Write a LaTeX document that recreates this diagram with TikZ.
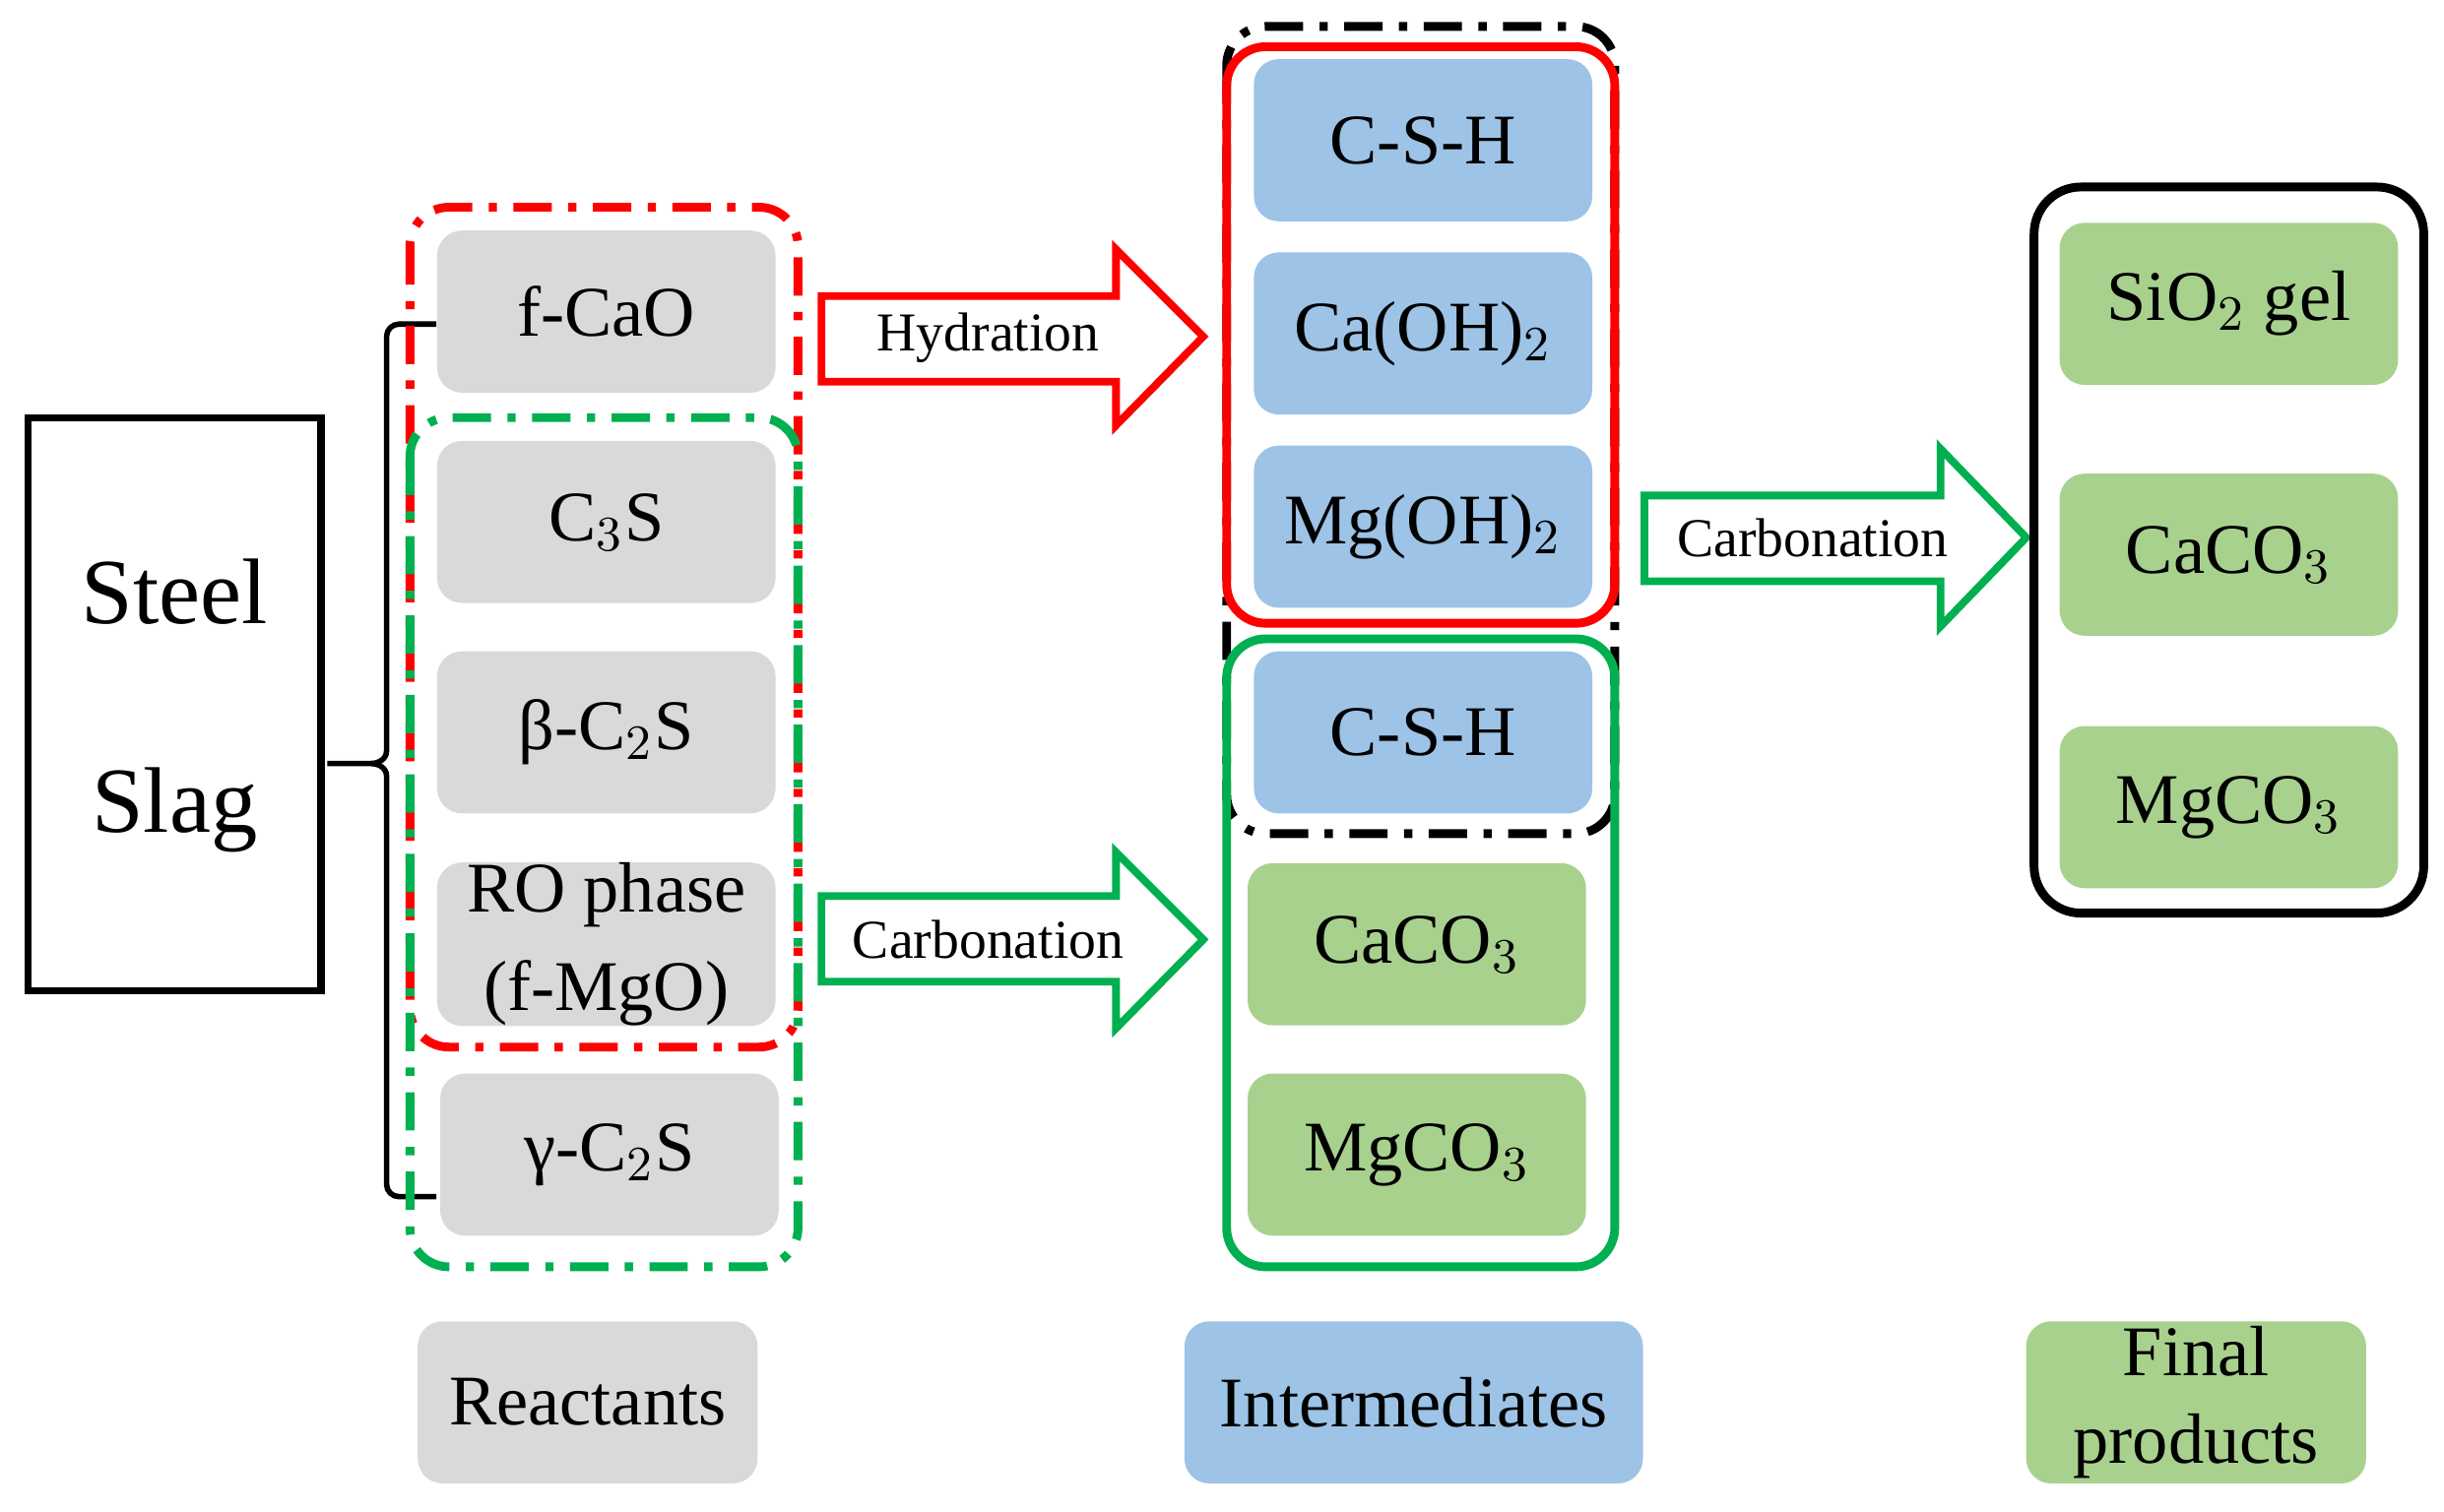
\documentclass[tikz,border=0pt]{standalone}
\usepackage{fontspec}
\setmainfont{Liberation Serif}
\begin{document}
\begin{tikzpicture}[x=0.01cm,y=-0.01cm,
  box/.style={rounded corners=0.16cm,draw=none,inner sep=0,font=\fontsize{13}{14}\selectfont,align=center,minimum width=2.17cm,minimum height=1.04cm},
  gray/.style={box,fill=black!15},
  blue/.style={box,fill={rgb,255:red,157;green,195;blue,230}},
  green/.style={box,fill={rgb,255:red,169;green,209;blue,142}},
  dd/.style={line width=1.6pt,dash pattern=on 7pt off 3pt on 1.5pt off 3pt,rounded corners=0.25cm},
  fatarrow/.style={line width=1.4pt,fill=white}]
\useasboundingbox (0,0) rectangle (1568,970);
\definecolor{gr}{RGB}{0,176,80}
% Steel slag
\draw[line width=1.3pt] (18,268) rectangle (206,636);
\node[font=\fontsize{17}{18}\selectfont] (steel) at (112,380) {Steel};
\node[font=\fontsize{17}{18}\selectfont] (slag) at (112,520) {Slag};
\draw[line width=1pt] (210,490) -- (238,490) to[out=0,in=90] (248,498) -- (248,760) to[out=-90,in=180] (256,768) -- (280,768);
\draw[line width=1pt] (238,490) to[out=0,in=-90] (248,482) -- (248,216) to[out=90,in=180] (256,208) -- (280,208);
% reactants
\node[gray] (fcao) at (389,200) {f-CaO};
\node[gray] (c3s) at (389,335) {C$_3$S};
\node[gray] (bc2s) at (389,470) {β-C$_2$S};
\node[gray,font=\fontsize{13}{18}\selectfont] (ro) at (389,606) {RO phase\\(f-MgO)};
\node[gray] (gc2s) at (391,741) {γ-C$_2$S};
\draw[dd,red] (263,133) rectangle (512,672);
\draw[dd,gr] (263,268) rectangle (512,813);
% arrows
\draw[fatarrow,draw=red] (527,190) -- (716,190) -- (716,160) -- (772,216) -- (716,273) -- (716,245) -- (527,245) -- cycle;
\node[font=\fontsize{10}{11}\selectfont] (hyd) at (634,217) {Hydration};
\draw[fatarrow,draw=gr] (527,575) -- (716,575) -- (716,547) -- (772,603) -- (716,660) -- (716,630) -- (527,630) -- cycle;
\node[font=\fontsize{10}{11}\selectfont] (carb1) at (634,603) {Carbonation};
\draw[fatarrow,draw=gr] (1055,318) -- (1245,318) -- (1245,288) -- (1300,345) -- (1245,402) -- (1245,373) -- (1055,373) -- cycle;
\node[font=\fontsize{10}{11}\selectfont] (carb2) at (1163,345) {Carbonation};
% intermediates
\node[blue] (csh1) at (913,90) {C-S-H};
\node[blue] (caoh) at (913,214) {Ca(OH)$_2$};
\node[blue] (mgoh) at (913,338) {Mg(OH)$_2$};
\node[blue] (csh2) at (913,470) {C-S-H};
\node[green] (caco) at (909,606) {CaCO$_3$};
\node[green] (mgco) at (909,741) {MgCO$_3$};
\draw[dd,black] (787,17) rectangle (1036,535);
\draw[line width=1.6pt,red,rounded corners=0.25cm] (787,30) rectangle (1036,400);
\draw[line width=1.6pt,gr,rounded corners=0.25cm] (787,410) rectangle (1036,813);
% final
\draw[line width=1.6pt,rounded corners=0.3cm] (1305,120) rectangle (1555,586);
\node[green] (sio) at (1430,195) {SiO$_2$ gel};
\node[green] (caco2) at (1430,356) {CaCO$_3$};
\node[green] (mgco2) at (1430,518) {MgCO$_3$};
% legend
\node[gray,minimum width=2.18cm] (lr) at (377,900) {Reactants};
\node[blue,minimum width=2.94cm] (li) at (907,900) {Intermediates};
\node[green,minimum width=2.18cm,font=\fontsize{13}{16}\selectfont] (lf) at (1409,900) {Final\\products};
\end{tikzpicture}
\end{document}
